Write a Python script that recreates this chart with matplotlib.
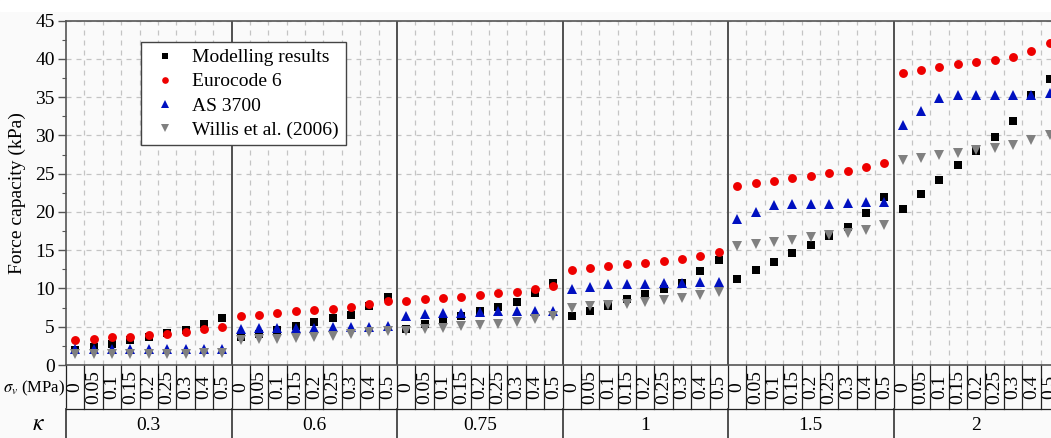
import matplotlib
matplotlib.use("Agg")
import matplotlib.pyplot as plt
import matplotlib.transforms as mtransforms
from matplotlib.ticker import MultipleLocator
import numpy as np

plt.rcParams["font.family"] = ["Liberation Serif", "DejaVu Serif"]
plt.rcParams["mathtext.fontset"] = "stix"

# ---- data ----
KAPPA_LABELS = ["0.3", "0.6", "0.75", "1", "1.5", "2"]
SIGMA_LABELS = ["0", "0.05", "0.1", "0.15", "0.2", "0.25", "0.3", "0.4", "0.5"]

modelling = [
    [2.0, 2.3, 2.8, 3.25, 3.6, 4.2, 4.55, 5.3, 6.15],
    [3.6, 4.1, 4.55, 5.05, 5.6, 6.1, 6.6, 7.7, 8.9],
    [4.65, 5.3, 5.8, 6.35, 7.0, 7.55, 8.2, 9.4, 10.75],
    [6.35, 7.05, 7.75, 8.6, 9.25, 9.9, 10.7, 12.25, 13.7],
    [11.2, 12.4, 13.5, 14.6, 15.7, 16.8, 18.0, 19.9, 22.0],
    [20.45, 22.35, 24.15, 26.1, 27.95, 29.85, 31.85, 35.25, 37.35],
]
eurocode6 = [
    [3.25, 3.45, 3.6, 3.7, 3.9, 4.1, 4.25, 4.65, 4.95],
    [6.35, 6.6, 6.8, 7.0, 7.2, 7.35, 7.6, 7.95, 8.35],
    [8.35, 8.6, 8.75, 8.95, 9.15, 9.35, 9.6, 9.95, 10.35],
    [12.4, 12.7, 12.9, 13.15, 13.35, 13.55, 13.8, 14.25, 14.75],
    [23.45, 23.8, 24.1, 24.45, 24.75, 25.1, 25.4, 25.9, 26.4],
    [38.15, 38.55, 39.0, 39.4, 39.65, 39.9, 40.2, 41.05, 42.05],
]
as3700 = [
    [2.05, 2.05, 2.05, 2.1, 2.1, 2.1, 2.1, 2.15, 2.15],
    [4.7, 4.8, 4.85, 4.9, 4.9, 4.95, 4.95, 5.0, 5.05],
    [6.45, 6.65, 6.75, 6.85, 6.95, 7.0, 7.0, 7.0, 7.05],
    [9.9, 10.25, 10.55, 10.6, 10.65, 10.7, 10.75, 10.8, 10.85],
    [19.05, 20.0, 20.85, 21.05, 21.1, 21.1, 21.15, 21.25, 21.35],
    [31.35, 33.15, 34.85, 35.25, 35.25, 35.25, 35.35, 35.35, 35.55],
]
willis = [
    [1.4, 1.4, 1.45, 1.45, 1.45, 1.5, 1.5, 1.55, 1.55],
    [3.25, 3.35, 3.45, 3.55, 3.7, 3.8, 4.0, 4.25, 4.45],
    [4.45, 4.65, 4.85, 5.05, 5.25, 5.4, 5.6, 5.95, 6.35],
    [7.45, 7.65, 7.8, 8.0, 8.25, 8.45, 8.7, 9.1, 9.55],
    [15.5, 15.75, 16.05, 16.35, 16.7, 17.0, 17.25, 17.7, 18.25],
    [26.75, 27.1, 27.4, 27.75, 28.05, 28.4, 28.75, 29.4, 30.05],
]

SERIES = [
    ("Modelling results", modelling, "s", "black", 6.0),
    ("Eurocode 6", eurocode6, "o", "#ee0000", 6.4),
    ("AS 3700", as3700, "^", "#0010c0", 7.2),
    ("Willis et al. (2006)", willis, "v", "#808080", 7.2),
]

n_sig = len(SIGMA_LABELS)
n_kap = len(KAPPA_LABELS)
n = n_sig * n_kap
x = np.arange(n) + 0.5

BG = "#fafafa"
FS = 14
fig = plt.figure(figsize=(10.51, 4.38), dpi=100, facecolor=BG)
ax = fig.add_axes([66 / 1051, 73 / 438, 993 / 1051, 344.3 / 438], facecolor=BG)

# grid: dashed at cell boundaries and every 5 kPa
for b in range(1, n):
    if b % n_sig:
        ax.axvline(b, color="#c4c4c4", lw=0.9, ls=(0, (4, 4)), zorder=0)
for yv in range(5, 46, 5):
    ax.axhline(yv, color="#c4c4c4", lw=0.9, ls=(0, (4, 4)), zorder=0)
# solid group separators
for g in range(1, n_kap + 1):
    ax.axvline(g * n_sig, color="#505050", lw=1.4, zorder=1)

for label, vals, mk, col, ms in SERIES:
    ax.plot(x, np.ravel(vals), ls="none", marker=mk, color=col,
            markeredgewidth=0, markersize=ms, label=label, zorder=3)

ax.set_xlim(0, n)
ax.set_ylim(0, 45)
ax.set_xticks([])
ax.yaxis.set_major_locator(MultipleLocator(5))
ax.yaxis.set_minor_locator(MultipleLocator(2.5))
ax.tick_params(axis="y", which="major", direction="out", length=6,
               width=1, labelsize=FS, color="#555555", pad=2)
ax.tick_params(axis="y", which="minor", direction="out", length=3,
               width=0.8, color="#555555")
for s in ("top", "bottom", "left"):
    ax.spines[s].set_color("#555555")
    ax.spines[s].set_linewidth(1.2)
ax.spines["right"].set_visible(False)
ax.set_ylabel("Force capacity (kPa)", fontsize=FS)
ax.yaxis.set_label_coords(-0.040, 0.5)

leg = ax.legend(loc="upper left", bbox_to_anchor=(0.0755, 0.938),
                borderaxespad=0, fontsize=FS, markerscale=0.75,
                labelspacing=0.33, handletextpad=0.5, handlelength=1.8,
                fancybox=False, edgecolor="#444444", framealpha=1,
                facecolor="white", borderpad=0.35)
leg.get_frame().set_linewidth(1.0)

# ---- category table below the axis ----
trans = mtransforms.blended_transform_factory(ax.transData, ax.transAxes)
row1 = -44 / 344.3          # bottom of sigma row
row2 = -80 / 344.3          # bottom of kappa row (past the figure edge)
for b in range(0, n + 1):
    ax.plot([b, b], [0, row1], transform=trans, color="#222222", lw=0.9,
            clip_on=False)
for g in range(0, n_kap + 1):
    ax.plot([g * n_sig, g * n_sig], [row1, row2], transform=trans,
            color="#505050", lw=1.4, clip_on=False)
ax.plot([0, n], [row1, row1], transform=trans, color="#222222", lw=0.9,
        clip_on=False)

for i in range(n):
    ax.text(x[i], row1 / 2, SIGMA_LABELS[i % n_sig], transform=trans,
            rotation=90, ha="center", va="center", fontsize=FS)
for g, kl in enumerate(KAPPA_LABELS):
    ax.text(g * n_sig + n_sig / 2, -60 / 344.3, kl, transform=trans,
            ha="center", va="center", fontsize=FS)

fig.text(65 / 1051, 1 - 388 / 438, r"$\sigma_v$ (MPa)", ha="right",
         va="center", fontsize=12)
fig.text(38 / 1051, 1 - 425 / 438, r"$\kappa$", ha="center",
         va="center", fontsize=17)

# white strip above the plot, as in the reference
fig.patches.append(plt.Rectangle((0, 1 - 11 / 438), 1, 11 / 438,
                                 transform=fig.transFigure, color="white",
                                 zorder=-1))

fig.savefig("out.png", dpi=100, facecolor=fig.get_facecolor())
